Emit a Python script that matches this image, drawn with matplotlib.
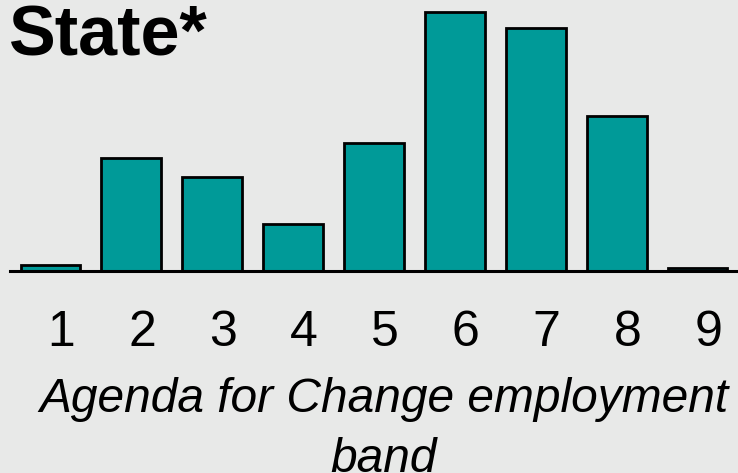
import matplotlib
matplotlib.use("Agg")
import matplotlib.pyplot as plt
import matplotlib.transforms as mtransforms

# data (percent of staff in each band)
bands = [1, 2, 3, 4, 5, 6, 7, 8, 9]
band_labels = ["1", "2", "3", "4", "5", "6", "7", "8", "9"]
share = [0.6, 10.8, 9.0, 4.5, 12.2, 24.7, 23.2, 14.8, 0.3]

bg = "#e8e9e8"
teal = "#009a98"

plt.rcParams["font.family"] = ["Liberation Sans", "DejaVu Sans"]

fig = plt.figure(figsize=(7.38, 4.73), dpi=100, facecolor=bg)
W, H = 738, 473
ax = fig.add_axes([10 / W, (H - 271) / H, 728 / W, 271 / H])
ax.set_facecolor(bg)

ax.bar(bands, share, width=0.74, color=teal, edgecolor="black", linewidth=2.0, zorder=3)

ax.set_xlim(0.5, 9.5)
ax.set_ylim(0, max(share) * 271 / 259)

for s in ["top", "right", "left"]:
    ax.spines[s].set_visible(False)
ax.spines["bottom"].set_linewidth(2.2)
ax.spines["bottom"].set_zorder(4)
ax.set_yticks([])

ax.set_xticks(bands)
ax.set_xticklabels(band_labels, fontsize=36)
ax.tick_params(axis="x", length=0, pad=28)
shift = mtransforms.ScaledTranslation(11 / 100, 0, fig.dpi_scale_trans)
for lbl in ax.get_xticklabels():
    lbl.set_transform(lbl.get_transform() + shift)

fig.text(8 / W, 1 - 4 / H, "State*", fontsize=50.5, fontweight="bold", ha="left", va="top")

fig.text(384 / W, 1 - 377 / H, "Agenda for Change employment\nband", fontsize=34.5,
         style="italic", ha="center", va="top", multialignment="center", linespacing=1.42)

fig.savefig("out.png", dpi=100, facecolor=bg)
